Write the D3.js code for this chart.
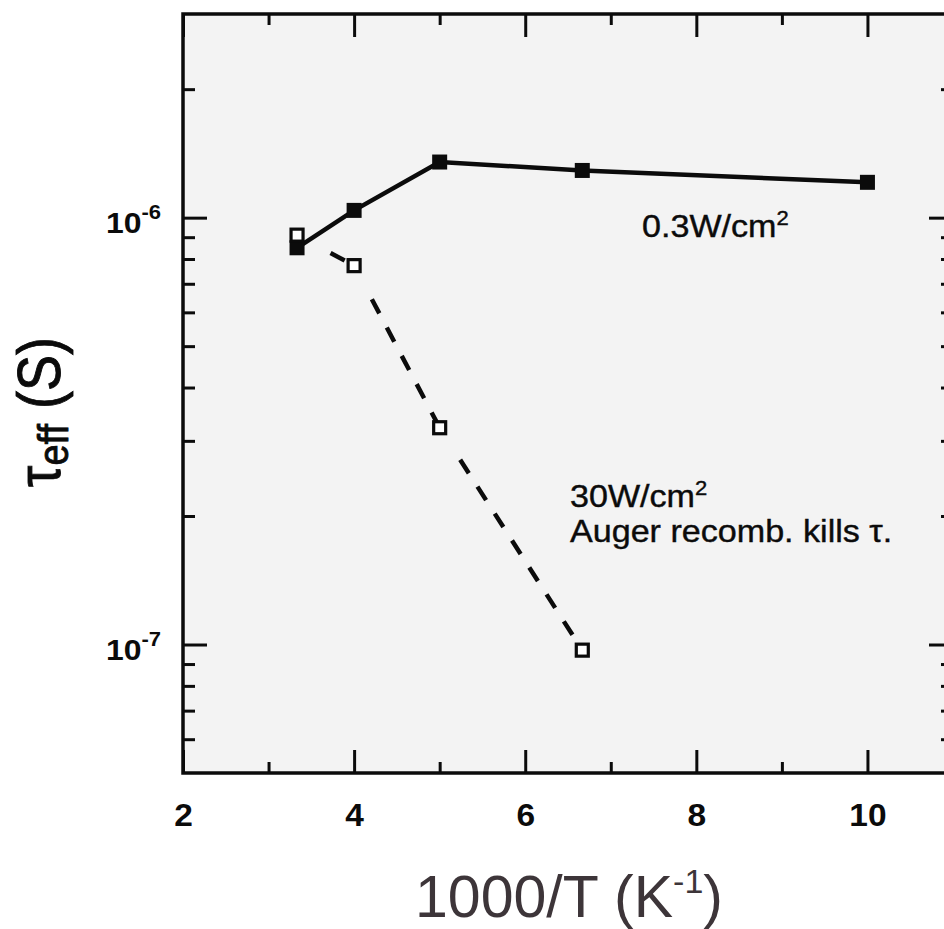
<!DOCTYPE html>
<html>
<head>
<meta charset="utf-8">
<script src="https://cdn.jsdelivr.net/npm/d3@7"></script>
<style>
  body { margin: 0; background: #fff; }
  svg { display: block; font-family: "Liberation Sans", Arial, Helvetica, sans-serif; }
</style>
</head>
<body>
<div id="chart"></div>
<script>
// data: 1000/T (1/K) against tau_eff (s)
const invTLow = [3.333, 4, 5, 6.667, 10];
const tauLow = [8.5e-7, 1.04e-6, 1.35e-6, 1.29e-6, 1.21e-6];      // 0.3 W/cm2
const invTHigh = [3.333, 4, 5, 6.667];
const tauHigh = [9.1e-7, 7.72e-7, 3.22e-7, 9.7e-8];              // 30 W/cm2

// ticks
const xMajor = [2, 4, 6, 8, 10];
const xMinor = [3, 5, 7, 9];
const yMajor = [1e-7, 1e-6];
const yMinor = [6e-8, 7e-8, 8e-8, 9e-8, 2e-7, 3e-7, 4e-7, 5e-7, 6e-7, 7e-7, 8e-7, 9e-7, 2e-6];

const w = 944;
const h = 929;
const plotLeft = 183, plotTop = 14, plotRight = 953, plotBottom = 773;
const ink = '#0b0b0b';

const xScale = d3.scaleLinear()
                 .domain([2, 11])
                 .range([plotLeft, plotRight]);

const yScale = d3.scaleLog()
                 .domain([5e-8, 3e-6])
                 .range([plotBottom, plotTop]);

const svg = d3.select('#chart')
              .append('svg')
              .attr('width', w)
              .attr('height', h);

//plot background
svg.append('rect')
   .attr('x', plotLeft)
   .attr('y', plotTop)
   .attr('width', plotRight - plotLeft)
   .attr('height', plotBottom - plotTop)
   .attr('fill', '#f3f3f3');

//axes - helper to draw ticks only
function drawAxis(axis, transform, values, size, withText) {
  const g = svg.append('g')
               .attr('transform', transform)
               .call(axis.tickValues(values).tickSizeInner(-size).tickSizeOuter(0).tickPadding(0)
                         .tickFormat(withText ? null : ''))
               .attr('font-size', null)
               .attr('font-family', null);
  g.select('.domain').remove();
  g.selectAll('line').attr('stroke', ink).attr('stroke-width', 3);
  if (!withText) g.selectAll('text').remove();
  return g;
}

const xBottom = drawAxis(d3.axisBottom(xScale), `translate(0, ${plotBottom})`, xMajor, 23, true);
drawAxis(d3.axisBottom(xScale), `translate(0, ${plotBottom})`, xMinor, 11, false);
drawAxis(d3.axisTop(xScale), `translate(0, ${plotTop})`, xMajor, 23, false);
drawAxis(d3.axisTop(xScale), `translate(0, ${plotTop})`, xMinor, 11, false);

const yLeft = drawAxis(d3.axisLeft(yScale), `translate(${plotLeft}, 0)`, yMajor, 24, true);
drawAxis(d3.axisLeft(yScale), `translate(${plotLeft}, 0)`, yMinor, 12, false);
drawAxis(d3.axisRight(yScale), `translate(${plotRight}, 0)`, yMajor, 24, false);
drawAxis(d3.axisRight(yScale), `translate(${plotRight}, 0)`, yMinor, 12, false);

//tick labels
xBottom.selectAll('text')
       .attr('y', 53)
       .attr('dy', null)
       .attr('transform', 'scale(1.08,1)')
       .attr('fill', ink)
       .attr('font-size', 31)
       .attr('font-weight', 'bold')
       .text(d => d3.format('d')(d));

yLeft.selectAll('text')
     .attr('x', 0)
     .attr('y', 15)
     .attr('dy', null)
     .attr('transform', 'translate(-22, 0) scale(1.1,1)')
     .attr('text-anchor', 'end')
     .attr('fill', ink)
     .attr('font-size', 29)
     .attr('font-weight', 'bold')
     .text(null)
     .each(function(d) {
       const t = d3.select(this);
       t.append('tspan').text('10');
       t.append('tspan').attr('font-size', 20).attr('dy', -14).text(Math.round(Math.log10(d)));
     });

//frame
svg.append('rect')
   .attr('x', plotLeft)
   .attr('y', plotTop)
   .attr('width', plotRight - plotLeft)
   .attr('height', plotBottom - plotTop)
   .attr('fill', 'none')
   .attr('stroke', ink)
   .attr('stroke-width', 3.5);

//solid line - 0.3 W/cm2
const lowData = invTLow.map((x, i) => ({x: x, y: tauLow[i]}));
const highData = invTHigh.map((x, i) => ({x: x, y: tauHigh[i]}));

const line = d3.line()
               .x(d => xScale(d.x))
               .y(d => yScale(d.y));

svg.append('path')
   .datum(lowData)
   .attr('d', line)
   .attr('fill', 'none')
   .attr('stroke', ink)
   .attr('stroke-width', 4.5);

//dashed line - 30 W/cm2, each segment starts with a gap
const trim = 22;
function segEnds(a, b) {
  const x1 = xScale(a.x), y1 = yScale(a.y), x2 = xScale(b.x), y2 = yScale(b.y);
  const len = Math.hypot(x2 - x1, y2 - y1);
  return [x1 + (x2 - x1) * trim / len, y1 + (y2 - y1) * trim / len, x2, y2];
}

svg.selectAll('.dash-seg')
   .data(d3.pairs(highData))
   .enter()
   .append('line')
   .attr('class', 'dash-seg')
   .attr('x1', d => segEnds(d[0], d[1])[0])
   .attr('y1', d => segEnds(d[0], d[1])[1])
   .attr('x2', d => segEnds(d[0], d[1])[2])
   .attr('y2', d => segEnds(d[0], d[1])[3])
   .attr('stroke', ink)
   .attr('stroke-width', 4.5)
   .attr('stroke-dasharray', '16,16')
   .attr('stroke-dashoffset', 16);

//markers
svg.selectAll('.filled')
   .data(lowData)
   .enter()
   .append('rect')
   .attr('class', 'filled')
   .attr('x', d => xScale(d.x) - 7.5)
   .attr('y', d => yScale(d.y) - 7.5)
   .attr('width', 15)
   .attr('height', 15)
   .attr('fill', ink);

svg.selectAll('.open')
   .data(highData)
   .enter()
   .append('rect')
   .attr('class', 'open')
   .attr('x', d => xScale(d.x) - 6)
   .attr('y', d => yScale(d.y) - 6)
   .attr('width', 12)
   .attr('height', 12)
   .attr('fill', '#fff')
   .attr('stroke', ink)
   .attr('stroke-width', 3.2);

//annotations
function note(x, y, parts) {
  const t = svg.append('text')
               .attr('transform', `translate(${x}, ${y}) scale(1.1,1)`)
               .attr('font-size', 31)
               .attr('fill', ink)
               .attr('stroke', ink)
               .attr('stroke-width', 0.4);
  parts.forEach(p => {
    const s = t.append('tspan').text(p.text);
    if (p.sup) s.attr('font-size', 20).attr('dy', -12);
  });
}

note(642, 237, [{text: '0.3W/cm'}, {text: '2', sup: true}]);
note(570, 507, [{text: '30W/cm'}, {text: '2', sup: true}]);
note(570, 542, [{text: 'Auger recomb. kills \u03c4.'}]);

//axis labels
const yLabel = svg.append('text')
                  .attr('transform', 'translate(60, 412) rotate(-90) scale(1, 1.12)')
                  .attr('text-anchor', 'middle')
                  .attr('font-size', 54)
                  .attr('fill', ink)
                  .attr('stroke', ink)
                  .attr('stroke-width', 0.8);
yLabel.append('tspan').text('\u03c4');
yLabel.append('tspan').attr('font-size', 38).attr('dy', 7).text('eff');
yLabel.append('tspan').attr('dy', -7).text(' (S)');

const xLabel = svg.append('text')
                  .attr('x', 569)
                  .attr('y', 917)
                  .attr('text-anchor', 'middle')
                  .attr('font-size', 59)
                  .attr('fill', '#3d3539');
xLabel.append('tspan').text('1000/T (K');
xLabel.append('tspan').attr('font-size', 34).attr('dy', -24).text('-1');
xLabel.append('tspan').attr('dy', 24).text(')');
</script>
</body>
</html>
